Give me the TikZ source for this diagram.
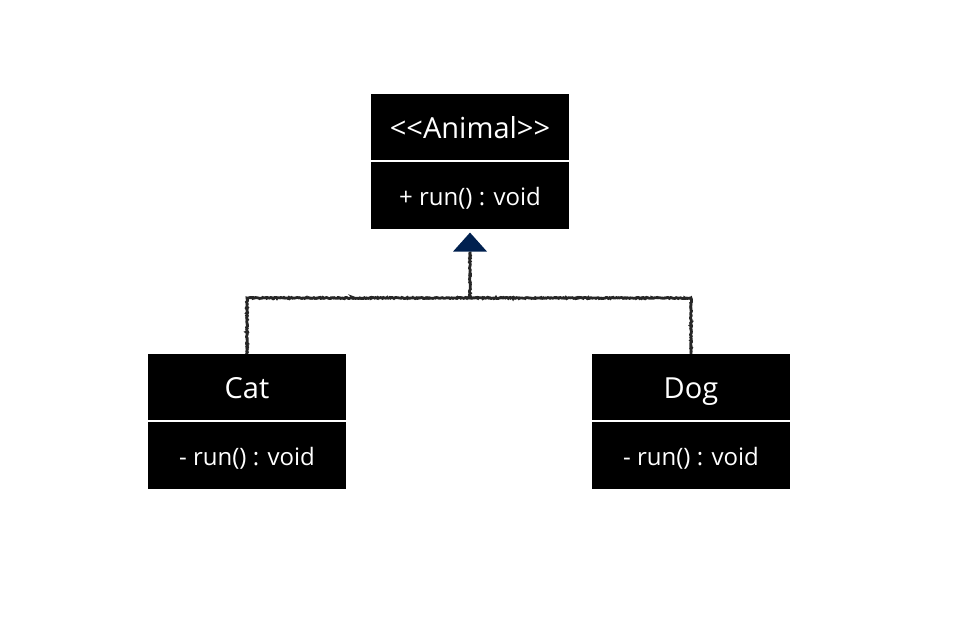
\documentclass[tikz,border=0pt]{standalone}
\usepackage{fontspec}
\setmainfont{Open Sans}
\usetikzlibrary{positioning,arrows.meta,decorations.pathmorphing}
\definecolor{navy}{HTML}{00204F}

\begin{document}
\begin{tikzpicture}[
    x=1pt, y=1pt,
    classtitle/.style={
        fill=black,
        text=white,
        minimum width=198pt,
        minimum height=67pt,
        inner sep=0pt,
        text height=23pt,
        text depth=0pt,
        font=\fontsize{29}{34}\selectfont
    },
    classbody/.style={
        fill=black,
        text=white,
        minimum width=198pt,
        minimum height=68pt,
        inner sep=0pt,
        text height=20pt,
        text depth=0pt,
        font=\fontsize{24}{28}\selectfont
    },
    divider/.style={
        draw=white,
        line width=1.6pt
    },
    sketch/.style={
        draw=black!85,
        line width=2.8pt,
        decorate,
        decoration={random steps, segment length=0.9pt, amplitude=0.55pt}
    }
]

% bounding box
\useasboundingbox (0,0) rectangle (980,626);

% classes
\node[classtitle] (animal) at (470,498.5) {{<}{<}Animal{>}{>}};
\node[classbody, below=0pt of animal] (animalops) {+ run() : void};

\node[classtitle] (cat) at (247,238.5) {Cat};
\node[classbody, below=0pt of cat] (catops) {- run() : void};

\node[classtitle] (dog) at (691,238.5) {Dog};
\node[classbody, below=0pt of dog] (dogops) {- run() : void};

\draw[divider] (animal.south west) -- (animal.south east);
\draw[divider] (cat.south west) -- (cat.south east);
\draw[divider] (dog.south west) -- (dog.south east);

% inheritance
\coordinate (joint) at (470,328);
\coordinate (tipbase) at ([yshift=-22pt]animalops.south);

\draw[sketch] (cat.north) |- (joint) -| (dog.north);
\draw[sketch] (joint) -- (tipbase);
\fill[navy] ([xshift=-17pt]tipbase) -- ([yshift=-3pt]animalops.south) -- ([xshift=17pt]tipbase) -- cycle;

\end{tikzpicture}
\end{document}
